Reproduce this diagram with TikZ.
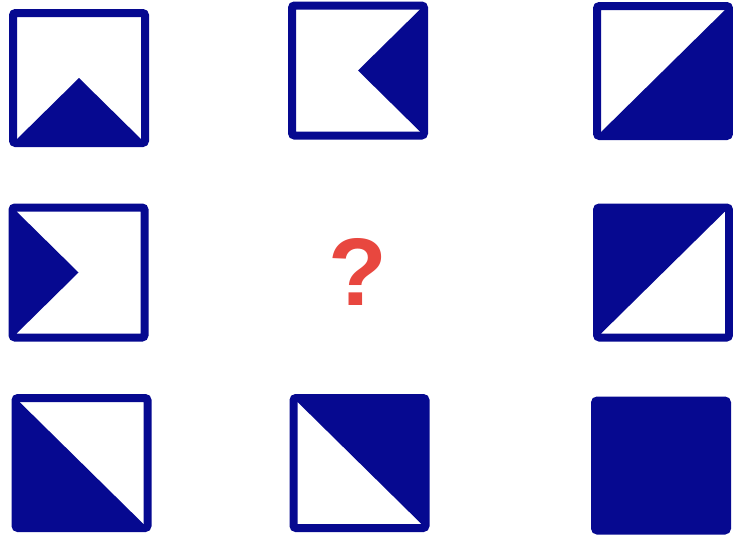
\documentclass[tikz,border=0pt]{standalone}
\usepackage{fontspec}
\newfontfamily\qmarkfont{Liberation Sans}
\usetikzlibrary{positioning}
\definecolor{tBlue}{HTML}{060990}
\definecolor{qRed}{HTML}{E8473F}

\begin{document}
\begin{tikzpicture}[x=1pt, y=-1pt,
    tile/.style={draw=tBlue, line width=8pt, rounded corners=2.5pt,
      minimum width=132pt, minimum height=130pt, inner sep=0pt, outer sep=0pt}]
    \useasboundingbox (0,0) rectangle (733,541);
    % frames
    \foreach \n/\x/\y in {t11/79/78, t12/358/70.5, t13/663/71,
                          t21/78.5/272.5, t23/663/272.5,
                          t31/81.5/463, t32/359.5/463} {
      \node[tile] (\n) at (\x,\y) {};
    }
    \node[tile, fill=tBlue] (t33) at (661,465.5) {};
    % shaded parts
    \foreach \n/\a/\b/\c in {t11/south west/center/south east,
                             t12/north east/center/south east,
                             t13/south west/north east/south east,
                             t21/north west/center/south west,
                             t23/north west/north east/south west,
                             t31/north west/south east/south west,
                             t32/north west/north east/south east} {
      \fill[tBlue] (\n.\a) -- (\n.\b) -- (\n.\c) -- cycle;
    }
    \node[text=qRed, font=\qmarkfont\bfseries\fontsize{96}{96}\selectfont] (q) at (358,272) {?};
  \end{tikzpicture}
\end{document}
